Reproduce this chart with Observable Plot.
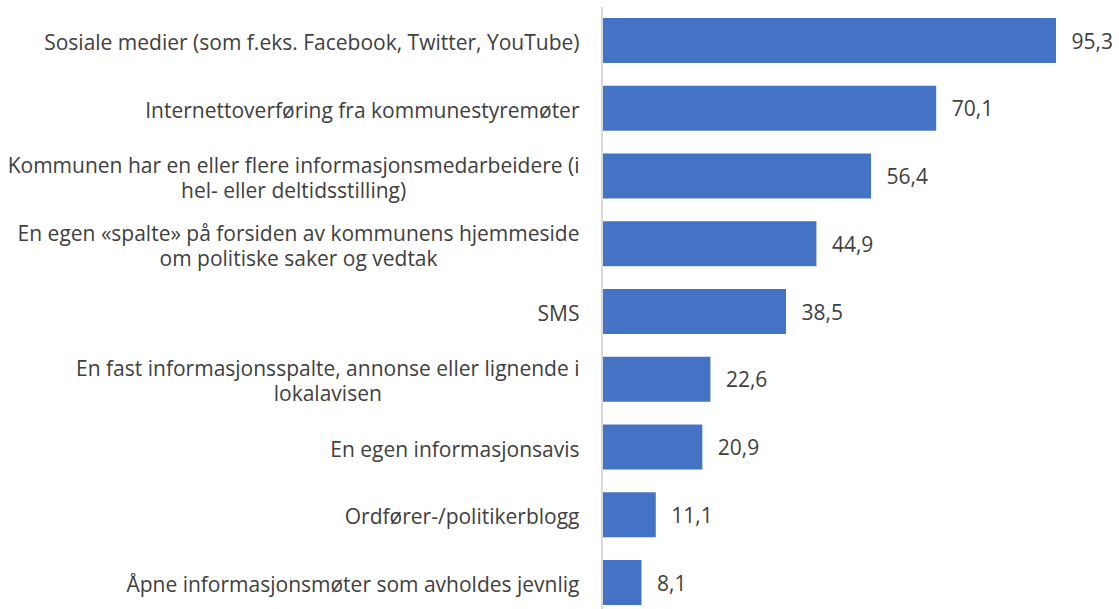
<!DOCTYPE html>
<html><head><meta charset="utf-8">
<script src="https://cdn.jsdelivr.net/npm/d3@7"></script>
<script src="https://cdn.jsdelivr.net/npm/@observablehq/plot@0.6"></script>
<style>body{margin:0;background:#fff}</style>
</head><body>
<div id="chart"></div>
<script>
const categories = [
  "Sosiale medier (som f.eks. Facebook, Twitter, YouTube)",
  "Internettoverføring fra kommunestyremøter",
  "Kommunen har en eller flere informasjonsmedarbeidere (i\nhel- eller deltidsstilling)",
  "En egen «spalte» på forsiden av kommunens hjemmeside\nom politiske saker og vedtak",
  "SMS",
  "En fast informasjonsspalte, annonse eller lignende i\nlokalavisen",
  "En egen informasjonsavis",
  "Ordfører-/politikerblogg",
  "Åpne informasjonsmøter som avholdes jevnlig"
];
const values = [95.3, 70.1, 56.4, 44.9, 38.5, 22.6, 20.9, 11.1, 8.1];

const data = categories.map((c, i) => ({category: c, value: values[i]}));
const fmt = v => v.toFixed(1).replace(".", ",");
const FONT = "'Open Sans', sans-serif";
const TEXT = "#404040";

const chart = Plot.plot({
  width: 1119,
  height: 609,
  marginLeft: 603,
  marginRight: 40.7,
  marginTop: 7,
  marginBottom: 0,
  style: {fontFamily: FONT, background: "#fff"},
  x: {domain: [0, 100], axis: null},
  y: {domain: categories, range: [6.6, 616.4], paddingInner: 0.336, paddingOuter: 0.168, round: false, axis: null},
  marks: [
    Plot.barX(data, {x: "value", y: "category", fill: "#4472C4"}),
    Plot.ruleX([0], {stroke: "#d9d9d9", strokeWidth: 2, dx: -1.5}),
    Plot.text(data, {
      x: () => 0, y: "category", text: "category",
      textAnchor: "end", lineAnchor: "middle", dx: -24, dy: 1,
      fontSize: 21, lineHeight: 1.19, fill: TEXT
    }),
    Plot.text(data, {
      x: "value", y: "category", text: d => fmt(d.value),
      textAnchor: "start", lineAnchor: "middle", dx: 15, dy: 1,
      fontSize: 21, fill: TEXT
    })
  ]
});
document.getElementById("chart").appendChild(chart);

// Center wrapped lines relative to each other (as in the original), keeping the block right-aligned
chart.querySelectorAll("text").forEach(t => {
  const spans = t.querySelectorAll("tspan");
  if (spans.length < 2) return;
  let maxW = 0;
  spans.forEach(s => { maxW = Math.max(maxW, s.getComputedTextLength()); });
  t.setAttribute("text-anchor", "middle");
  spans.forEach(s => { s.setAttribute("x", -maxW / 2); s.setAttribute("text-anchor", "middle"); });
});
</script></body></html>
